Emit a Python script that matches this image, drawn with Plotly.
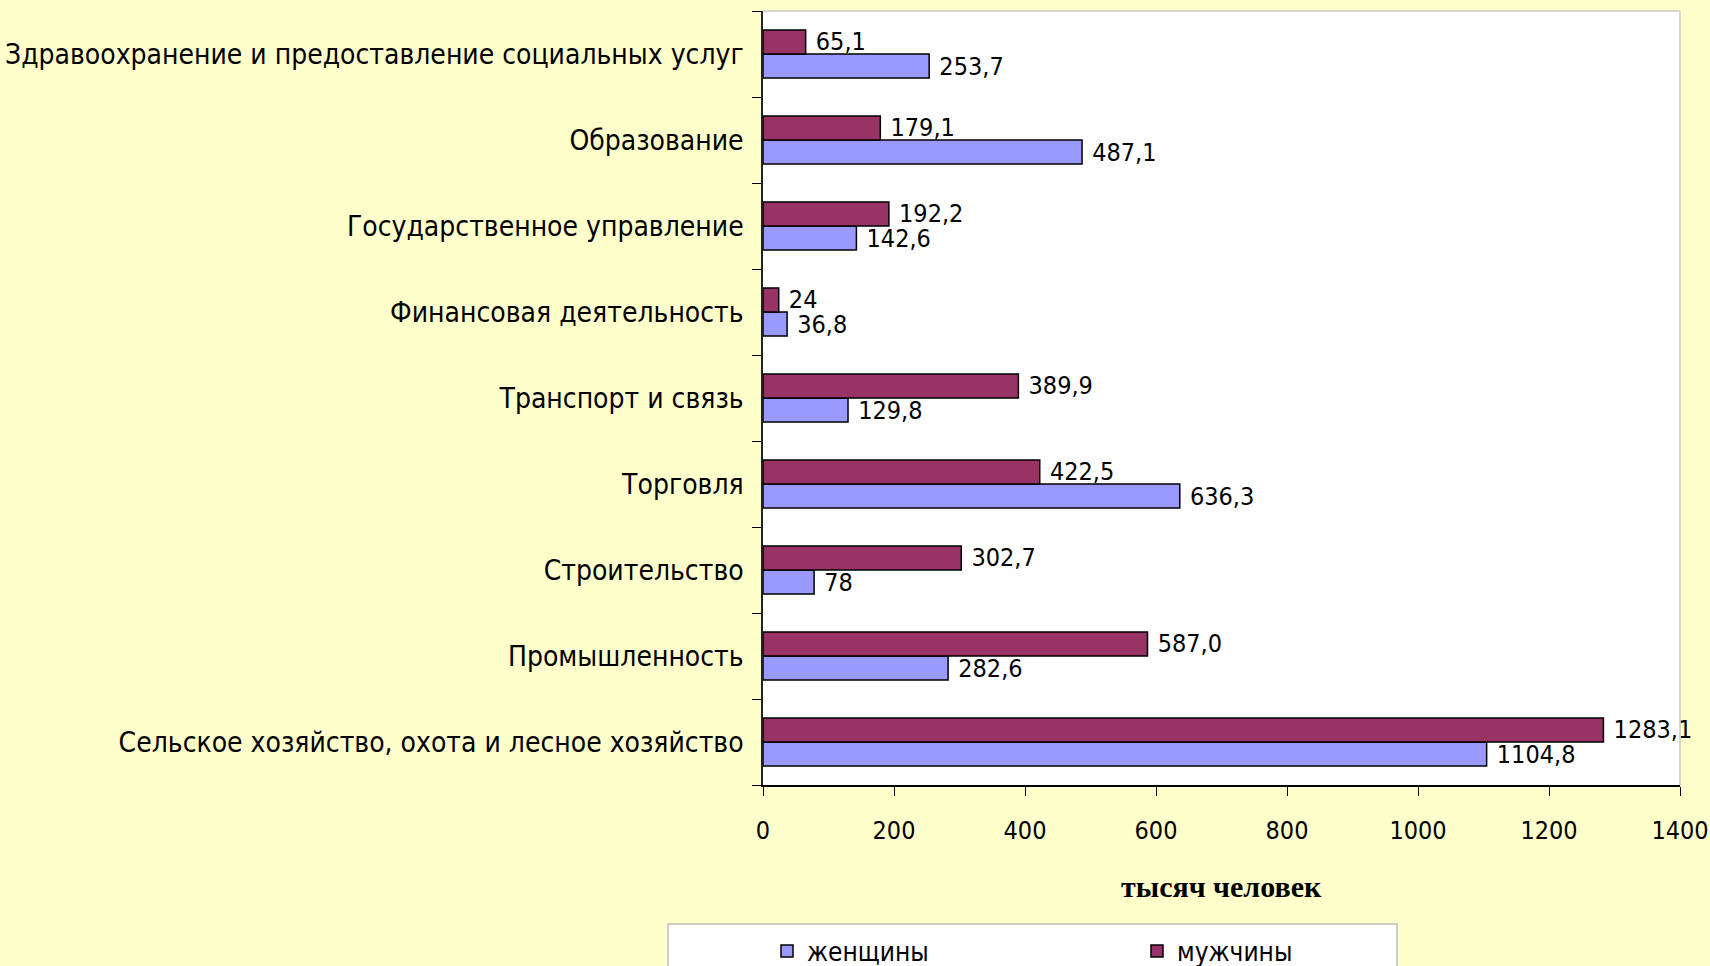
import plotly.graph_objects as go

categories = [
    "Сельское хозяйство, охота и лесное хозяйство",
    "Промышленность",
    "Строительство",
    "Торговля",
    "Транспорт и связь",
    "Финансовая деятельность",
    "Государственное управление",
    "Образование",
    "Здравоохранение и предоставление социальных услуг",
]
women = [1104.8, 282.6, 78, 636.3, 129.8, 36.8, 142.6, 487.1, 253.7]
men = [1283.1, 587.0, 302.7, 422.5, 389.9, 24, 192.2, 179.1, 65.1]
women_labels = ["1104,8", "282,6", "78", "636,3", "129,8", "36,8", "142,6", "487,1", "253,7"]
men_labels = ["1283,1", "587,0", "302,7", "422,5", "389,9", "24", "192,2", "179,1", "65,1"]
x_ticks = [0, 200, 400, 600, 800, 1000, 1200, 1400]

FONT = "DejaVu Sans Condensed, Liberation Sans Narrow, Liberation Sans, sans-serif"

W, H = 1710, 966
L, R, T, B = 763, 30, 11, 181
pw, ph = W - L - R, H - T - B
BOT = H - B  # pixel y of plot bottom


def py(pix):
    return (BOT - pix) / ph


def px(pix):
    return (pix - L) / pw


PAD = "\u00a0"  # small gap between bar end and its label

fig = go.Figure()
fig.add_trace(go.Bar(
    y=categories, x=women, name="женщины", orientation="h",
    marker=dict(color="#9999FF", line=dict(color="#000000", width=1.5)),
    text=[PAD + t for t in women_labels], textposition="outside", cliponaxis=False,
    constraintext="none",
    textfont=dict(family=FONT, size=25, color="#000000"),
))
fig.add_trace(go.Bar(
    y=categories, x=men, name="мужчины", orientation="h",
    marker=dict(color="#993366", line=dict(color="#000000", width=1.5)),
    text=[PAD + t for t in men_labels], textposition="outside", cliponaxis=False,
    constraintext="none",
    textfont=dict(family=FONT, size=25, color="#000000"),
))

fig.update_layout(
    width=W, height=H,
    margin=dict(l=L, r=R, t=T, b=B, autoexpand=False),
    paper_bgcolor="#FFFFCC",
    plot_bgcolor="#FFFFFF",
    barmode="group",
    bargap=0.44,
    bargroupgap=0.0,
    font=dict(family=FONT, size=26, color="#000000"),
    xaxis=dict(
        range=[0, 1400], tickvals=x_ticks, ticktext=[str(v) for v in x_ticks],
        showgrid=False, zeroline=False,
        showline=True, linecolor="#000000", linewidth=1.5,
        ticks="outside", ticklen=9, tickcolor="#000000", tickwidth=1.2,
        ticklabelstandoff=13,
        tickfont=dict(family=FONT, size=25),
    ),
    yaxis=dict(
        showgrid=False, zeroline=False,
        showline=True, linecolor="#222222", linewidth=1.5,
        ticks="outside", ticklen=9, tickcolor="#000000", tickwidth=1.2,
        tickson="boundaries",
        ticklabelstandoff=12,
        tickfont=dict(family=FONT, size=28),
    ),
    legend=dict(
        orientation="h", x=px(767), xanchor="left", y=py(951), yanchor="middle",
        bgcolor="rgba(0,0,0,0)", borderwidth=0,
        entrywidth=325, entrywidthmode="pixels",
        traceorder="normal",
        font=dict(family=FONT, size=26),
    ),
    showlegend=True,
)

# plot-area faint border (top and right)
fig.add_shape(type="line", xref="paper", yref="paper", x0=0, x1=1, y0=1, y1=1,
              line=dict(color="#C8C8C8", width=1.5), layer="above")
fig.add_shape(type="line", xref="paper", yref="paper", x0=1, x1=1, y0=0, y1=1,
              line=dict(color="#C8C8C8", width=1.5), layer="above")

# legend box
fig.add_shape(type="rect", xref="paper", yref="paper",
              x0=px(668), x1=px(1397), y0=py(980), y1=py(924),
              line=dict(color="#BDBDBD", width=1.5), fillcolor="#FFFFFF", layer="below")

# axis title
fig.add_annotation(
    text="<b>тысяч человек</b>", xref="paper", yref="paper",
    x=0.5, y=py(886), showarrow=False,
    xanchor="center", yanchor="middle",
    font=dict(family="Liberation Serif, Times New Roman, serif", size=30, color="#000000"),
)

fig.write_html(
    "out.html",
    config={"displayModeBar": False},
    post_script="document.body.style.margin='0';document.body.style.background='#FFFFCC';",
)
